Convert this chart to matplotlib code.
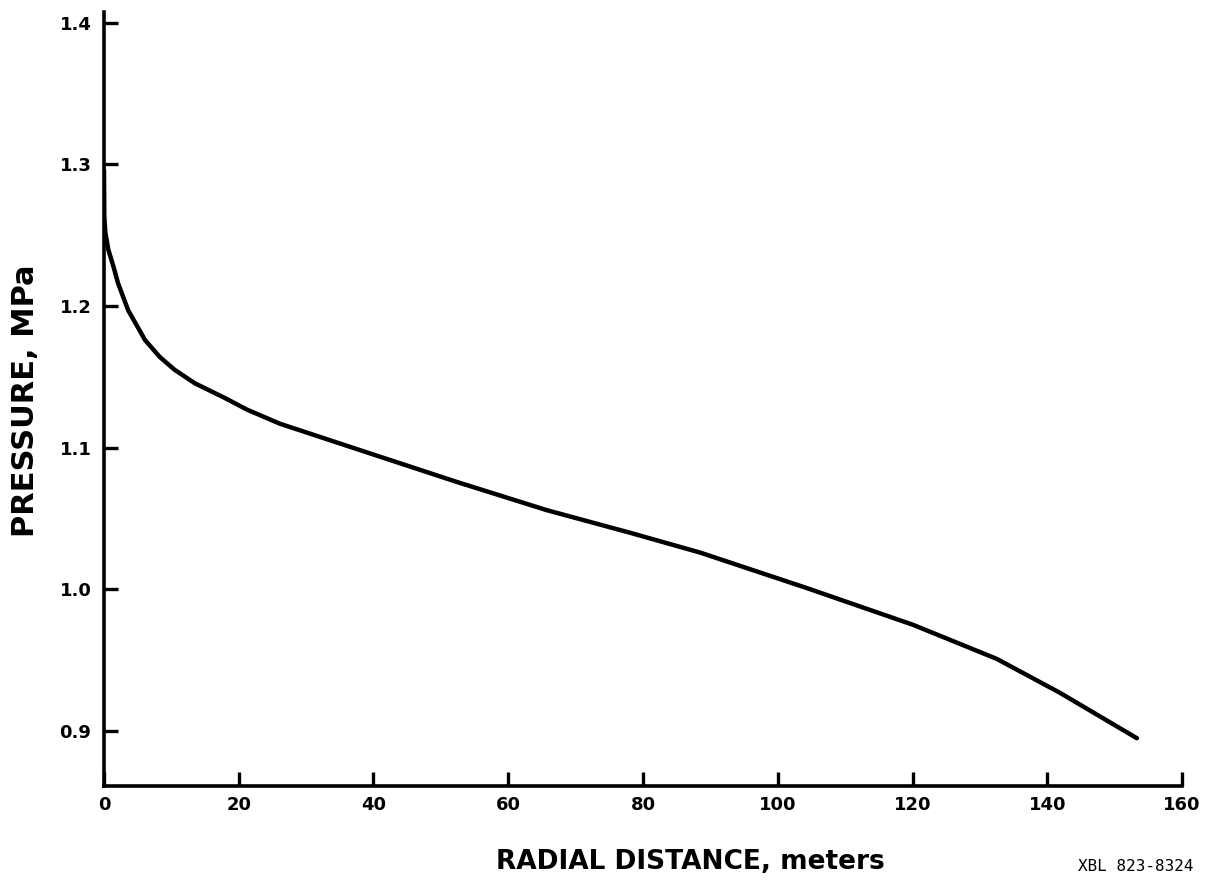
import matplotlib
matplotlib.use('Agg')
import matplotlib.pyplot as plt

# values
radial_distance = [0, 0.05, 0.2, 0.64, 1.4, 2.1, 3.6, 6.1, 8.3, 10.5, 13.5, 18.0, 21.2, 26.1,
                   39.5, 52.3, 65.7, 78.1, 88.5, 104.3, 120.1, 132.5, 141.9, 153.3]
pressure = [1.296, 1.263, 1.252, 1.240, 1.228, 1.216, 1.197, 1.176, 1.164, 1.155, 1.1455,
            1.135, 1.127, 1.117, 1.096, 1.076, 1.056, 1.040, 1.026, 1.001, 0.975, 0.951,
            0.927, 0.895]

x_ticks = [0, 20, 40, 60, 80, 100, 120, 140, 160]
y_ticks = [0.9, 1.0, 1.1, 1.2, 1.3, 1.4]
y_tick_labels = ['0.9', '1.0', '1.1', '1.2', '1.3', '1.4']

fig = plt.figure(figsize=(12.29, 8.88), dpi=100)
ax = fig.add_axes([0.0846, 0.1149, 0.8772, 0.8716])

ax.plot(radial_distance, pressure, color='black', lw=3.2,
        solid_capstyle='round', solid_joinstyle='round')

ax.set_xlim(0, 160)
ax.set_ylim(0.8613, 1.4076)

ax.spines['top'].set_visible(False)
ax.spines['right'].set_visible(False)
ax.spines['left'].set_linewidth(2.6)
ax.spines['bottom'].set_linewidth(2.6)

ax.set_xticks(x_ticks)
ax.set_xticklabels([str(t) for t in x_ticks])
ax.set_yticks(y_ticks)
ax.set_yticklabels(y_tick_labels)
ax.tick_params(axis='both', direction='in', length=10, width=2.4, color='black')
ax.tick_params(axis='x', pad=7)
ax.tick_params(axis='y', pad=9)
for lab in ax.get_xticklabels() + ax.get_yticklabels():
    lab.set_fontfamily('DejaVu Sans')
    lab.set_fontweight('bold')
    lab.set_fontsize(13)

fig.text(690 / 1229, 1 - 862 / 888, 'RADIAL DISTANCE, meters', ha='center', va='center',
         fontsize=19, fontweight='bold', family='DejaVu Sans')
fig.text(26 / 1229, 1 - 401 / 888, 'PRESSURE, MPa', ha='center', va='center',
         rotation=90, fontsize=22, fontweight='bold', family='DejaVu Sans')
fig.text(1136 / 1229, 1 - 866 / 888, 'XBL 823-8324', ha='center', va='center',
         fontsize=11.5, family='DejaVu Sans Mono')

fig.savefig('out.png', dpi=100)
